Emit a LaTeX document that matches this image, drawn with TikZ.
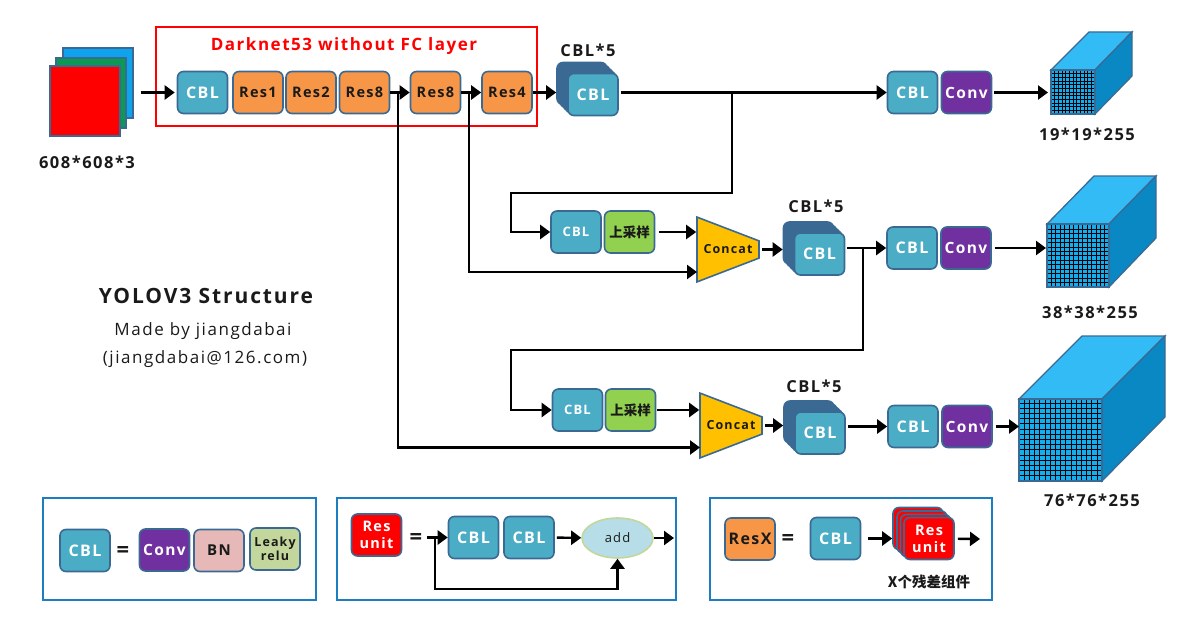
\documentclass[tikz,border=0pt]{standalone}
\usepackage{fontspec}
\setmainfont{Open Sans}[LetterSpace=9]
\newfontfamily\cjkfont{Noto Sans CJK SC}
\usetikzlibrary{arrows.meta,shapes.geometric,shadows}

\definecolor{edgeblue}{HTML}{3A6A94}
\definecolor{frameblue}{HTML}{1C7DC0}
\definecolor{cblfill}{HTML}{4BACC6}
\definecolor{resfill}{HTML}{F79646}
\definecolor{convfill}{HTML}{7030A0}
\definecolor{bnfill}{HTML}{E6B9B8}
\definecolor{leakyfill}{HTML}{C3D69B}
\definecolor{upfill}{HTML}{92D050}
\definecolor{concatfill}{HTML}{FFC000}
\definecolor{addfill}{HTML}{B7DDE8}
\definecolor{textdark}{HTML}{1A1A1A}
\definecolor{cubetop}{HTML}{33BBF5}
\definecolor{cubeside}{HTML}{0A88C4}
\definecolor{cubefront}{HTML}{12AEF0}
\definecolor{inblue}{HTML}{0FA3EE}
\definecolor{ingreen}{HTML}{0A9A50}

\tikzset{
  block/.style={draw=edgeblue,line width=1.6pt,rounded corners=6pt,minimum width=50pt,minimum height=42pt,inner sep=0pt,align=center,font=\bfseries\fontsize{14.5}{16}\selectfont},
  cblbox/.style={block,fill=cblfill,text=white,font=\bfseries\fontsize{16}{17}\selectfont},
  smallcbl/.style={cblbox,font=\bfseries\fontsize{13}{14}\selectfont},
  resbox/.style={block,fill=resfill,text=textdark},
  convbox/.style={block,fill=convfill,text=white,font=\bfseries\fontsize{15.5}{17}\selectfont},
  bnbox/.style={block,fill=bnfill,text=textdark,font=\bfseries\fontsize{15}{16}\selectfont},
  leakybox/.style={block,fill=leakyfill,text=textdark,font=\bfseries\fontsize{12.5}{14.5}\selectfont},
  upbox/.style={block,fill=upfill,text=textdark,font=\bfseries\cjkfont\fontsize{13.5}{14}\selectfont},
  unitbox/.style={block,fill=red,text=white,font=\bfseries\fontsize{14.5}{17}\selectfont},
  cblback/.style={fill=edgeblue,draw=edgeblue,opacity=1},
  cblstack/.style={cblbox,
    copy shadow={shadow xshift=-11pt,shadow yshift=11pt,cblback},
    copy shadow={shadow xshift=-8pt,shadow yshift=8pt,cblback},
    copy shadow={shadow xshift=-5pt,shadow yshift=5pt,cblback},
    copy shadow={shadow xshift=-2.5pt,shadow yshift=2.5pt,cblback}},
  unitstack/.style={unitbox,
    copy shadow={shadow xshift=-11pt,shadow yshift=10pt,fill=red,draw=edgeblue,opacity=1},
    copy shadow={shadow xshift=-7pt,shadow yshift=6.5pt,fill=red,draw=edgeblue,opacity=1},
    copy shadow={shadow xshift=-3.5pt,shadow yshift=3pt,fill=red,draw=edgeblue,opacity=1}},
  concatbox/.style={trapezium,shape border rotate=270,trapezium stretches=true,trapezium left angle=75.5,trapezium right angle=75.5,minimum width=65pt,minimum height=62pt,inner sep=0pt,draw=edgeblue,line width=1.6pt,fill=concatfill,text=textdark,font=\bfseries\fontsize{12.5}{14}\selectfont},
  layer/.style={draw=edgeblue,line width=2pt,inner sep=0pt,minimum size=70pt},
  legend/.style={draw=frameblue,line width=2pt},
  conn/.style={-{Triangle[length=10pt,width=14pt]},line width=2.4pt,black},
  caption/.style={font=\bfseries\fontsize{16.5}{18}\selectfont,text=textdark},
  eqsign/.style={font=\bfseries\fontsize{22}{22}\selectfont,text=textdark},
  cubeface/.style={draw=edgeblue,line width=1.3pt},
  cubegrid/.style={black,line width=0.85pt}
}

\begin{document}
\begin{tikzpicture}[x=1pt,y=-1pt]
    \useasboundingbox (0,0) rectangle (1200,626);

    % Input image
    \node[layer,fill=inblue] (inC) at (98,83) {};
    \node[layer,fill=ingreen] (inB) at (91,93) {};
    \node[layer,fill=red] (inA) at (84.5,101) {};
    \node[caption] (inLabel) at (87,162) {608*608*3};

    % Backbone
    \draw[draw=red,line width=2pt] (156,27) rectangle (537,126);
    \node[font=\bfseries\fontsize{17}{18}\selectfont,text=red] (backboneLabel) at (344,46) {Darknet53 without FC layer};
    \node[cblbox] (cblA) at (202.5,92.5) {CBL};
    \node[resbox] (resA) at (258,92.5) {Res1};
    \node[resbox] (resB) at (311,92.5) {Res2};
    \node[resbox] (resC) at (364.5,92.5) {Res8};
    \node[resbox] (resD) at (435.5,92.5) {Res8};
    \node[resbox] (resE) at (507,92.5) {Res4};

    % First scale
    \node[cblstack] (stackA) at (593,94.5) {CBL};
    \node[caption] (stackAlabel) at (588,50) {CBL*5};
    \node[cblbox] (cblC) at (912.5,92.5) {CBL};
    \node[convbox] (convA) at (966.5,92.5) {Conv};

    % Second scale
    \node[smallcbl] (cblD) at (576,232) {CBL};
    \node[upbox] (upA) at (629.5,232) {上采样};
    \node[concatbox] (concatA) at (728,249.5) {Concat};
    \node[cblstack] (stackB) at (819.5,254) {CBL};
    \node[caption] (stackBlabel) at (816,206) {CBL*5};
    \node[cblbox] (cblE) at (912,248) {CBL};
    \node[convbox] (convB) at (966,248) {Conv};

    % Third scale
    \node[smallcbl] (cblF) at (577.5,410) {CBL};
    \node[upbox] (upB) at (630.5,410) {上采样};
    \node[concatbox] (concatB) at (731,425.5) {Concat};
    \node[cblstack] (stackC) at (820,433) {CBL};
    \node[caption] (stackClabel) at (814,386) {CBL*5};
    \node[cblbox] (cblG) at (913,426.5) {CBL};
    \node[convbox] (convC) at (967,426.5) {Conv};

    % Output cubes
    \draw[cubeface,fill=cubetop] (1051,70) -- (1089,32) -- (1132,32) -- (1095,70) -- cycle;
    \draw[cubeface,fill=cubeside] (1095,70) -- (1132,32) -- (1132,76) -- (1095,114) -- cycle;
    \begin{scope}[shift={(1051,114)},y=1pt]
        \fill[cubefront] (0,0) rectangle (44,44);
        \draw[cubegrid,step=3.67] (0,0) grid (44,44);
    \end{scope}
    \draw[cubeface] (1051,70) rectangle (1095,114);
    \node[caption] (cubeAlabel) at (1087,134) {19*19*255};

    \draw[cubeface,fill=cubetop] (1047,224) -- (1094,176) -- (1156,176) -- (1109,224) -- cycle;
    \draw[cubeface,fill=cubeside] (1109,224) -- (1156,176) -- (1156,238) -- (1109,287) -- cycle;
    \begin{scope}[shift={(1047,287)},y=1pt]
        \fill[cubefront] (0,0) rectangle (62,63);
        \draw[cubegrid,step=4.45] (0,0) grid (62,63);
    \end{scope}
    \draw[cubeface] (1047,224) rectangle (1109,287);
    \node[caption] (cubeBlabel) at (1090,312) {38*38*255};

    \draw[cubeface,fill=cubetop] (1019,399) -- (1082,336) -- (1165,336) -- (1102,399) -- cycle;
    \draw[cubeface,fill=cubeside] (1102,399) -- (1165,336) -- (1165,417) -- (1102,481) -- cycle;
    \begin{scope}[shift={(1019,481)},y=1pt]
        \fill[cubefront] (0,0) rectangle (83,82);
        \draw[cubegrid,step=5.2] (0,0) grid (83,82);
    \end{scope}
    \draw[cubeface] (1019,399) rectangle (1102,481);
    \node[caption] (cubeClabel) at (1092,500) {76*76*255};

    % Titles
    \node[font=\bfseries\fontsize{21}{23}\selectfont,text=textdark] (titleA) at (206,296) {YOLOV3 Structure};
    \node[font=\fontsize{17}{19}\selectfont,text=textdark] (titleB) at (203,331) {Made by jiangdabai};
    \node[font=\fontsize{17}{19}\selectfont,text=textdark] (titleC) at (205,359) {(jiangdabai@126.com)};

    % Main connectors
    \coordinate (tapA) at (398,92.5);
    \coordinate (tapB) at (469,92.5);
    \coordinate (tapC) at (732,92.5);
    \coordinate (tapD) at (863,248);
    \coordinate (bendA) at (511,193);
    \coordinate (bendB) at (511,350);
    \coordinate (joinA) at (697,272);
    \coordinate (joinB) at (700,447.5);
    \draw[conn,shorten <=20pt,shorten >=2pt] (inA.east |- cblA) -- (cblA);
    \draw[conn] (resC) -- (resD);
    \draw[conn] (resD) -- (resE);
    \draw[conn,shorten >=11pt] (resE) -- (stackA.west |- resE);
    \draw[conn,shorten <=2pt] (stackA.east |- cblC) -- (cblC);
    \draw[conn,shorten <=2pt] (convA) -- (1048,92.5);
    \draw[conn] (tapC) |- (bendA) |- (cblD);
    \draw[conn] (tapB) |- (joinA);
    \draw[conn] (tapA) |- (joinB);
    \draw[conn,shorten <=4pt] (upA) -- (upA -| concatA.west);
    \draw[conn,shorten <=2pt,shorten >=11pt] (concatA.east) -- (concatA.east -| stackB.west);
    \draw[conn,shorten <=2pt] (stackB.east |- cblE) -- (cblE);
    \draw[conn,shorten <=3pt] (convB) -- (1046,248);
    \draw[conn] (tapD) |- (bendB) |- (cblF);
    \draw[conn,shorten <=1pt] (upB) -- (upB -| concatB.west);
    \draw[conn,shorten <=2pt,shorten >=11pt] (concatB.east) -- (concatB.east -| stackC.west);
    \draw[conn,shorten <=2pt] (stackC.east |- cblG) -- (cblG);
    \draw[conn,shorten <=3pt] (convC) -- (1019,426.5);

    % Legend CBL
    \draw[legend] (43,498) rectangle (316,600);
    \node[cblbox] (keyCbl) at (85,550.5) {CBL};
    \node[eqsign] (keyEqA) at (123,552) {=};
    \node[convbox] (keyConv) at (164.5,550) {Conv};
    \node[bnbox] (keyBn) at (219,550.5) {BN};
    \node[leakybox] (keyLeaky) at (275,549) {Leaky\\relu};

    % Legend Res unit
    \draw[legend] (337,498) rectangle (676,600);
    \node[unitbox] (keyUnit) at (376.5,535) {Res\\unit};
    \node[eqsign] (keyEqB) at (416,539) {=};
    \node[cblbox] (keyCblA) at (473.5,537.5) {CBL};
    \node[cblbox] (keyCblB) at (529,537.5) {CBL};
    \node[ellipse,draw=leakyfill,line width=1.6pt,fill=addfill,minimum width=71pt,minimum height=40pt,inner sep=0pt,font=\fontsize{13}{14}\selectfont,text=textdark] (keyAdd) at (617.5,538) {add};
    \coordinate (keyStart) at (427,537.5);
    \coordinate (keyTap) at (435,537.5);
    \coordinate (keyBend) at (435,589);
    \coordinate (keyEnd) at (674,538);
    \draw[conn] (keyStart) -- (keyCblA);
    \draw[conn,shorten <=2pt] (keyCblB) -- (keyAdd);
    \draw[conn] (keyAdd) -- (keyEnd);
    \draw[conn] (keyTap) |- (keyBend) -| (keyAdd.south);

    % Legend ResX
    \draw[legend] (710,498) rectangle (992,600);
    \node[resbox,font=\bfseries\fontsize{16}{17}\selectfont] (keyRes) at (750,539) {ResX};
    \node[eqsign] (keyEqC) at (788,540) {=};
    \node[cblbox] (keyCblC) at (835.5,538.5) {CBL};
    \node[unitstack] (keyStack) at (929,538.5) {Res\\unit};
    \coordinate (keyOut) at (980,539);
    \draw[conn,shorten <=7pt,shorten >=11pt] (keyCblC) -- (keyStack);
    \draw[conn,shorten <=3pt] (keyStack) -- (keyOut);
    \node[font=\bfseries\cjkfont\fontsize{14.5}{16}\selectfont,text=textdark] (keyNote) at (929,582) {X个残差组件};
\end{tikzpicture}
\end{document}
